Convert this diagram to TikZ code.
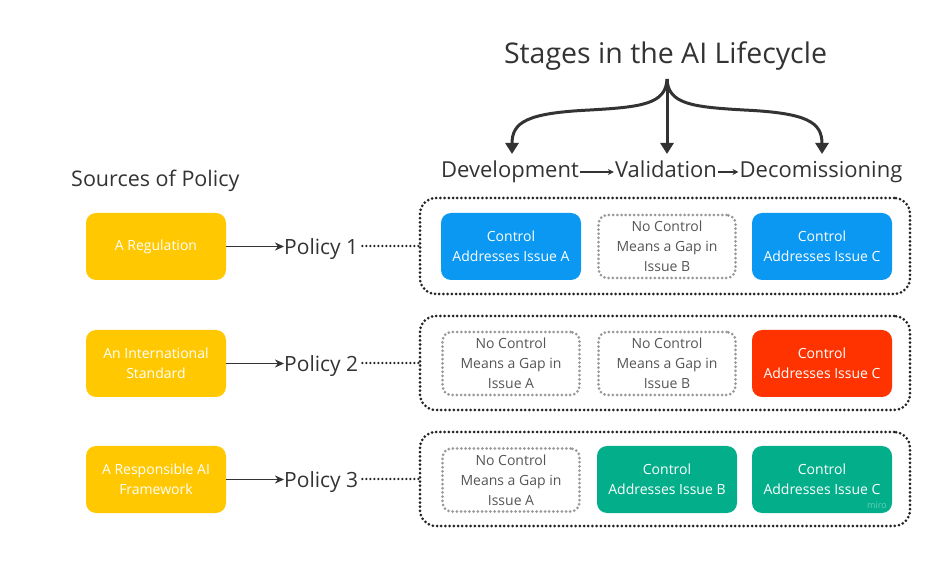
\documentclass[tikz,border=0pt]{standalone}
\usepackage{fontspec}
\setmainfont{Open Sans}
\usetikzlibrary{arrows.meta,positioning}
\definecolor{ink}{HTML}{333333}
\definecolor{srcyellow}{HTML}{FFC800}
\definecolor{ctlblue}{HTML}{0A98F2}
\definecolor{ctlred}{HTML}{FF3300}
\definecolor{ctlgreen}{HTML}{03AF8A}
\definecolor{gapgrey}{HTML}{999999}
\definecolor{gaptext}{HTML}{555555}
\tikzset{
  source/.style={fill=srcyellow, rounded corners=10pt, minimum width=140pt, minimum height=67pt,
     text=white, align=center, font=\fontsize{14}{20}\selectfont, inner sep=0pt},
  ctl/.style={rounded corners=10pt, minimum width=140pt, minimum height=67pt,
     text=white, align=center, font=\fontsize{14}{20}\selectfont, inner sep=0pt},
  gapbox/.style={draw=gapgrey, line width=3pt, line cap=round, dash pattern=on 0pt off 4.2pt,
     rounded corners=9pt, minimum width=137pt, minimum height=63pt,
     text=gaptext, align=center, font=\fontsize{14}{20}\selectfont, inner sep=0pt},
  container/.style={draw=ink!70!black, line width=3pt, line cap=round, dash pattern=on 0pt off 4.2pt,
     rounded corners=16pt, minimum width=490pt, inner sep=0pt},
  policy/.style={text=ink, font=\fontsize{21}{24}\selectfont, inner sep=0pt, anchor=base west},
  stage/.style={text=ink, font=\fontsize{22}{26}\selectfont, inner sep=1pt, anchor=base},
  feed/.style={draw=ink, line width=1.8pt, -{Stealth[length=9pt,width=8pt]}},
  link/.style={draw=ink!70!black, line width=2.6pt, line cap=round, dash pattern=on 0pt off 4pt},
  flow/.style={draw=ink, line width=1.2pt, -{Stealth[length=6pt,width=6pt]}},
  branch/.style={draw=ink, line width=3pt, -{Triangle[length=11pt,width=13pt]}},
}
\begin{document}
\begin{tikzpicture}[x=1pt,y=-1pt]
\useasboundingbox (0,0) rectangle (946,569);

% title and stages
\node[text=ink, font=\fontsize{28.5}{32}\selectfont, inner sep=0pt, anchor=base] (title) at (665.5,64) {Stages in the AI Lifecycle};
\coordinate (fork) at (667,79);
\node[stage] (dev) at (510,178) {Development};
\node[stage] (val) at (666,178) {Validation};
\node[stage] (dec) at (821,178) {Decomissioning};
\draw[flow] ([yshift=-1pt]dev.base east) ++(0,-7) coordinate (devr) -- (devr -| val.west);
\draw[flow] ([yshift=-1pt]val.base east) ++(0,-7) coordinate (valr) -- (valr -| dec.west);
\coordinate (devtop) at (512,154);
\coordinate (valtop) at (667,154);
\coordinate (dectop) at (822,154);
\draw[branch] (fork) -- (valtop);
\draw[branch] (fork) .. controls (666,104) and (642,107) .. (590,110) .. controls (527,113) and (512,122) .. (devtop);
\draw[branch] (fork) .. controls (668,104) and (692,107) .. (744,110) .. controls (807,113) and (822,122) .. (dectop);

% sources
\node[text=ink, font=\fontsize{21.5}{26}\selectfont, inner sep=0pt, anchor=base west] (srctitle) at (71,187) {Sources of Policy};
\node[source] (s1) at (156,246.5) {A Regulation};
\node[source] (s2) at (156,363.5) {An International\\Standard};
\node[source] (s3) at (156,479.5) {A Responsible AI\\Framework};

\node[policy] (p1) at (284,255) {Policy 1};
\node[policy] (p2) at (284,372) {Policy 2};
\node[policy] (p3) at (284,488) {Policy 3};
\draw[feed] (s1.east) -- (s1.east -| p1.west);
\draw[feed] (s2.east) -- (s2.east -| p2.west);
\draw[feed] (s3.east) -- (s3.east -| p3.west);

% containers
\node[container, minimum height=96pt] (c1) at (665,246) {};
\node[container, minimum height=94pt] (c2) at (665,363) {};
\node[container, minimum height=94pt] (c3) at (665,479) {};
\draw[link] ([xshift=4pt]p1.east |- c1.west) -- (c1.west);
\draw[link] ([xshift=4pt]p2.east |- c2.west) -- (c2.west);
\draw[link] ([xshift=4pt]p3.east |- c3.west) -- (c3.west);

% row 1
\node[ctl, fill=ctlblue] (r1a) at (511,246.5) {Control\\Addresses Issue A};
\node[gapbox] (r1b) at (667,246.5) {No Control\\Means a Gap in\\Issue B};
\node[ctl, fill=ctlblue] (r1c) at (822,246.5) {Control\\Addresses Issue C};
% row 2
\node[gapbox] (r2a) at (511,363.5) {No Control\\Means a Gap in\\Issue A};
\node[gapbox] (r2b) at (667,363.5) {No Control\\Means a Gap in\\Issue B};
\node[ctl, fill=ctlred] (r2c) at (822,363.5) {Control\\Addresses Issue C};
% row 3
\node[gapbox] (r3a) at (511,480) {No Control\\Means a Gap in\\Issue A};
\node[ctl, fill=ctlgreen] (r3b) at (667,479.5) {Control\\Addresses Issue B};
\node[ctl, fill=ctlgreen] (r3c) at (822,479.5) {Control\\Addresses Issue C};
\node[text=ctlgreen!60!white, font=\fontsize{9}{10}\selectfont, inner sep=0pt] (miro) at (877,505) {miro};
\end{tikzpicture}
\end{document}
